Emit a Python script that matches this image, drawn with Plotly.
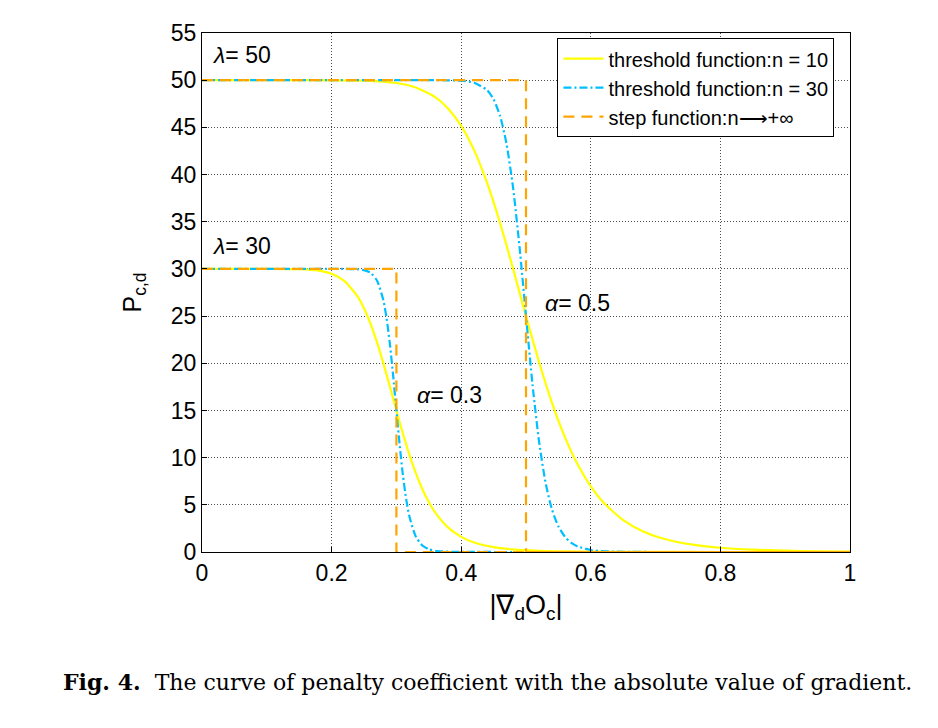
import plotly.graph_objects as go

# ---- data ----
# lambda = 50, alpha = 0.5, n = 10
x_a = [0, 0.05, 0.1, 0.15, 0.2, 0.25, 0.3, 0.33, 0.36, 0.38, 0.40, 0.42, 0.44, 0.46, 0.48, 0.50,
       0.52, 0.54, 0.56, 0.58, 0.60, 0.62, 0.65, 0.68, 0.72, 0.76, 0.80, 0.85, 0.90, 0.95, 1.0]
y_a = [50, 50, 50, 50, 49.99, 49.95, 49.70, 49.23, 48.20, 46.98, 45.15, 42.56, 39.11, 34.86, 30.03, 25.0,
       20.16, 15.83, 12.18, 9.24, 6.95, 5.21, 3.38, 2.21, 1.27, 0.75, 0.45, 0.25, 0.14, 0.08, 0.05]
# lambda = 50, alpha = 0.5, n = 30
x_b = [0, 0.1, 0.2, 0.3, 0.35, 0.38, 0.40, 0.42, 0.44, 0.45, 0.46, 0.47, 0.48, 0.49, 0.50, 0.51,
       0.52, 0.53, 0.54, 0.55, 0.56, 0.57, 0.58, 0.60, 0.62, 0.65, 0.70, 0.80, 0.90, 1.0]
y_b = [50, 50, 50, 50, 50, 49.99, 49.94, 49.73, 48.94, 47.97, 46.21, 43.24, 38.64, 32.35, 25.0, 17.79,
       11.78, 7.41, 4.52, 2.71, 1.62, 0.96, 0.58, 0.21, 0.08, 0.02, 0, 0, 0, 0]
# lambda = 30, alpha = 0.3, n = 10
x_c = [0, 0.05, 0.1, 0.15, 0.18, 0.20, 0.22, 0.24, 0.25, 0.26, 0.27, 0.28, 0.29, 0.30, 0.31, 0.32,
       0.33, 0.34, 0.35, 0.36, 0.38, 0.40, 0.42, 0.45, 0.48, 0.52, 0.56, 0.60, 0.70, 0.80, 0.90, 1.0]
y_c = [30, 30, 30, 29.97, 29.82, 29.49, 28.71, 27.09, 25.83, 24.21, 22.24, 19.98, 17.52, 15.0, 12.56, 10.32,
       8.35, 6.67, 5.29, 4.17, 2.58, 1.60, 1.00, 0.51, 0.27, 0.12, 0.06, 0.03, 0.01, 0, 0, 0]
# lambda = 30, alpha = 0.3, n = 30
x_d = [0, 0.1, 0.2, 0.22, 0.24, 0.25, 0.26, 0.27, 0.28, 0.285, 0.29, 0.295, 0.30, 0.305, 0.31, 0.315,
       0.32, 0.33, 0.34, 0.35, 0.36, 0.38, 0.40, 0.5, 0.6, 0.7, 0.8, 0.9, 1.0]
y_d = [30, 30, 30, 30, 29.96, 29.87, 29.60, 28.78, 26.64, 24.70, 22.03, 18.70, 15.0, 11.36, 8.16, 5.64,
       3.78, 1.63, 0.69, 0.29, 0.13, 0.03, 0.01, 0, 0, 0, 0, 0, 0]
# step functions (n -> +inf)
x_step50 = [0, 0.5, 1.0]
y_step50 = [50, 0, 0]
x_step30 = [0, 0.3, 1.0]
y_step30 = [30, 0, 0]

legend_names = ["threshold function:n = 10", "threshold function:n = 30", "step function:n\u27f6+\u221e"]
x_ticks = [0, 0.2, 0.4, 0.6, 0.8, 1.0]
x_ticklabels = ["0", "0.2", "0.4", "0.6", "0.8", "1"]
y_ticks = list(range(0, 56, 5))

YELLOW = "#FFFF00"
CYAN = "#00BFFF"
ORANGE = "#FFA500"
DASHDOT = "8px,3px,2px,3px"
DASH = "11px,7px"

fig = go.Figure()

def add(x, y, color, dash, name, show, shape="spline"):
    fig.add_trace(go.Scatter(
        x=x, y=y, mode="lines", name=name, showlegend=show, legendgroup=name,
        line=dict(color=color, width=2.2, dash=dash, shape=shape,
                  smoothing=0.6 if shape == "spline" else None),
    ))

add(x_a, y_a, YELLOW, "solid", legend_names[0], True)
add(x_c, y_c, YELLOW, "solid", legend_names[0], False)
add(x_b, y_b, CYAN, DASHDOT, legend_names[1], True)
add(x_d, y_d, CYAN, DASHDOT, legend_names[1], False)
add(x_step50, y_step50, ORANGE, DASH, legend_names[2], True, shape="hv")
add(x_step30, y_step30, ORANGE, DASH, legend_names[2], False, shape="hv")

font_main = "Liberation Sans, Arial, sans-serif"

axis_common = dict(
    showline=True, linecolor="black", linewidth=1, mirror=True,
    ticks="inside", ticklen=5, tickcolor="black",
    showgrid=True, gridcolor="rgba(0,0,0,0.7)", griddash="1px,2px", gridwidth=1,
    zeroline=False, tickfont=dict(family=font_main, size=23, color="black"),
)

fig.update_layout(
    width=938, height=728,
    margin=dict(l=194, r=96, t=15, b=184),
    paper_bgcolor="white", plot_bgcolor="white",
    font=dict(family=font_main, color="black"),
    xaxis=dict(range=[0, 1], tickvals=x_ticks, ticktext=x_ticklabels,
               title=dict(text="|\u2207<sub>d</sub>O<sub>c</sub>|", font=dict(size=27), standoff=10),
               **axis_common),
    yaxis=dict(range=[0, 55], tickvals=y_ticks,
               title=dict(text="P<sub>c,d</sub>", font=dict(size=25), standoff=22),
               **axis_common),
    legend=dict(x=0.976, y=0.99, xanchor="right", yanchor="top",
                bgcolor="white", bordercolor="black", borderwidth=1,
                font=dict(size=20, family=font_main), tracegroupgap=0,
                itemwidth=40),
    showlegend=True,
)

ann = dict(showarrow=False, font=dict(size=23, family=font_main, color="black"),
           xanchor="left", yanchor="middle")
fig.add_annotation(x=0.012, y=52.7, text="<i>\u03bb</i>= 50", **ann)
fig.add_annotation(x=0.012, y=32.4, text="<i>\u03bb</i>= 30", **ann)
fig.add_annotation(x=0.526, y=26.4, text="<i>\u03b1</i>= 0.5", **ann)
fig.add_annotation(x=0.328, y=16.6, text="<i>\u03b1</i>= 0.3", **ann)

fig.add_annotation(
    xref="paper", yref="paper", x=0.44, y=-0.2514, xanchor="center", yanchor="middle",
    showarrow=False,
    text="<b>Fig. 4.</b>  The curve of penalty coefficient with the absolute value of gradient.",
    font=dict(size=22, family="DejaVu Serif, Liberation Serif, serif", color="black"),
)

fig.write_html("out.html")
